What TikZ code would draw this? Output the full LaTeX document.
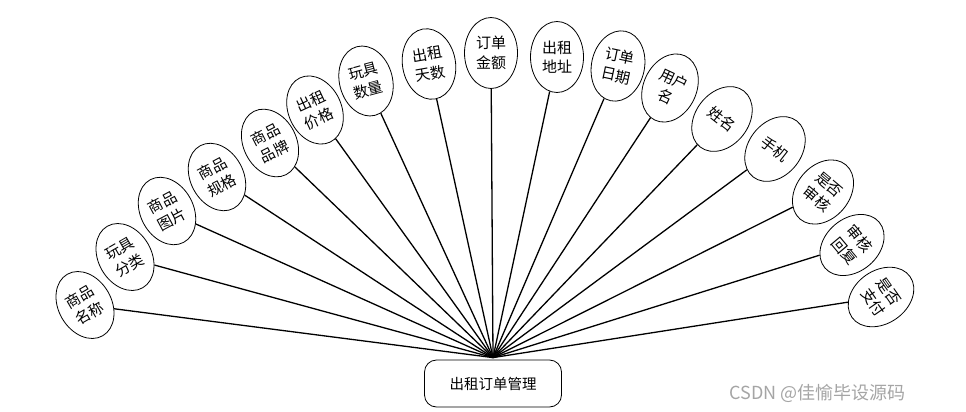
\documentclass[tikz,border=0pt]{standalone}
\usepackage{fontspec}
\newfontfamily\cjk{Noto Sans CJK SC}
\usetikzlibrary{shapes.geometric}
\definecolor{wm}{RGB}{165,165,165}
\begin{document}
\begin{tikzpicture}[x=1pt,y=-1pt,
  attr/.style={draw, ellipse, inner sep=0pt, minimum width=53pt, minimum height=71pt,
    font=\cjk\fontsize{15}{19.5}\selectfont, align=center, fill=white, line width=0.8pt},
  hubbox/.style={draw, rounded corners=12pt, minimum width=137pt, minimum height=47pt,
    font=\cjk\fontsize{14.5}{17}\selectfont, line width=0.8pt, fill=white},
  link/.style={line width=1.3pt}]
\useasboundingbox (0,0) rectangle (966,412);
\node[hubbox] (box) at (493,383.5) {出租订单管理};
\node[attr, rotate=30]  (a1)  at (85,305)  {商品\\名称};
\node[attr, rotate=30]  (a2)  at (125,257) {玩具\\分类};
\node[attr, rotate=28]  (a3)  at (167,211) {商品\\图片};
\node[attr, rotate=28]  (a4)  at (217,177) {商品\\规格};
\node[attr, rotate=27]  (a5)  at (270,143) {商品\\品牌};
\node[attr, rotate=25]  (a6)  at (315,110) {出租\\价格};
\node[attr, rotate=15]  (a7)  at (366,81)  {玩具\\数量};
\node[attr, rotate=10]  (a8)  at (429,64)  {出租\\天数};
\node[attr]             (a9)  at (491,53)  {订单\\金额};
\node[attr]             (a10) at (557,57)  {出租\\地址};
\node[attr, rotate=-12] (a11) at (618,66)  {订单\\日期};
\node[attr, rotate=-25] (a12) at (670,88)  {用户\\名};
\node[attr, rotate=-38] (a13) at (722,119) {姓名};
\node[attr, rotate=-38] (a14) at (775,149) {手机};
\node[attr, rotate=-40] (a15) at (823,192) {是否\\审核};
\node[attr, rotate=-50] (a16) at (852,245) {审核\\回复};
\node[attr, rotate=-55] (a17) at (881,297) {是否\\支付};
\coordinate (hub) at ([yshift=2pt]box.north);
\foreach \i in {1,...,17} \draw[link] (hub) -- (a\i);
\node[font=\cjk\fontsize{18}{21}\selectfont, text=wm, anchor=east] (wmk) at (909,393) {CSDN @佳愉毕设源码};
\end{tikzpicture}
\end{document}
